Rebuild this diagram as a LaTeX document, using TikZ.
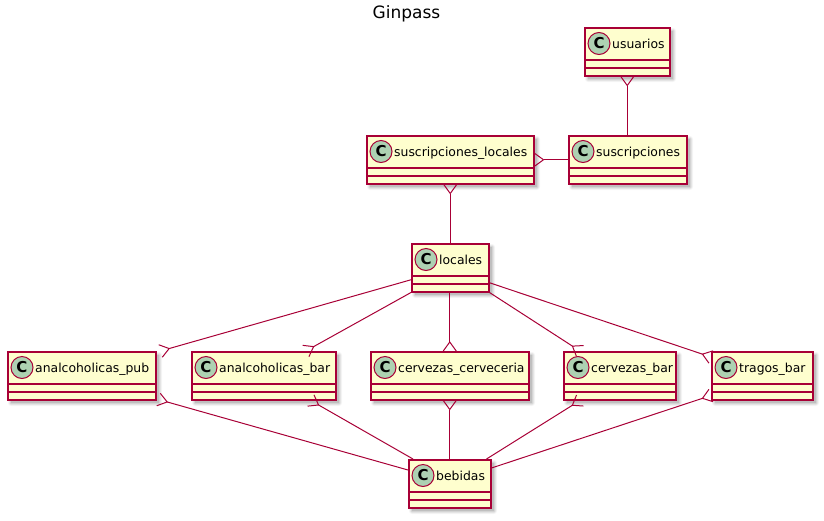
\documentclass[tikz,border=0pt]{standalone}
\usepackage{fontspec}
\setmainfont{DejaVu Sans}
\usetikzlibrary{calc}
\definecolor{umlfill}{HTML}{FEFECE}
\definecolor{umlline}{HTML}{A80036}
\definecolor{umlcirc}{HTML}{ADD1B2}
\tikzset{
  classbox/.style={draw=umlline, fill=umlfill, line width=1.5pt, rectangle, inner sep=0pt, minimum height=48pt, anchor=north west},
  conn/.style={draw=umlline, line width=1pt},
  sepline/.style={draw=umlline, line width=1.5pt},
  cicon/.style={circle, draw=umlline, fill=umlcirc, line width=1pt, minimum size=22pt, inner sep=0pt, font=\fontsize{15}{15}\selectfont\bfseries},
  clabel/.style={anchor=base west, inner sep=0pt, font=\fontsize{12.4}{15}\selectfont},
  titletext/.style={anchor=base, inner sep=0pt, font=\fontsize{17}{20}\selectfont},
}
% #1 name, #2 left x, #3 top y, #4 width, #5 label
\newcommand{\umlclass}[5]{%
  \foreach \sk/\sop in {0/0.10,1/0.08,2/0.06,3/0.04}{%
    \fill[black, opacity=\sop, rounded corners=\sk pt] (#2+4-\sk, #3+4-\sk) rectangle (#2+#4+4+\sk, #3+52+\sk);
  }
  \node[classbox, minimum width=#4pt] (#1) at (#2,#3) {};
  \draw[sepline] ($(#1.north west)+(0,33)$) -- ($(#1.north east)+(0,33)$);
  \draw[sepline] ($(#1.north west)+(0,41)$) -- ($(#1.north east)+(0,41)$);
  \node[cicon] (#1-icon) at ($(#1.north west)+(15,16.5)$) {C};
  \node[clabel] (#1-label) at ($(#1.north west)+(28,21)$) {#5};
}
% #1 crow-foot end, #2 other end
\newcommand{\crowconn}[2]{%
  \draw[conn] (#2) -- ($(#1)!9pt!(#2)$);
  \draw[conn] ($(#1)!6.5pt!90:(#2)$) -- ($(#1)!9pt!(#2)$) -- ($(#1)!6.5pt!-90:(#2)$);
}
\begin{document}
\begin{tikzpicture}[x=1pt, y=-1pt]
  \useasboundingbox (0,0) rectangle (824,520);
  \node[titletext] (title) at (406.5,18) {Ginpass};

  \umlclass{usu}{584}{27}{85}{usuarios}
  \umlclass{sl}{366}{135}{167}{suscripciones\_locales}
  \umlclass{susc}{568}{135}{118}{suscripciones}
  \umlclass{loc}{411}{243}{77}{locales}
  \umlclass{pub}{7}{351}{148}{analcoholicas\_pub}
  \umlclass{abar}{191}{351}{144}{analcoholicas\_bar}
  \umlclass{cc}{370}{351}{158}{cervezas\_cerveceria}
  \umlclass{cbar}{563}{351}{112}{cervezas\_bar}
  \umlclass{tb}{711}{351}{101}{tragos\_bar}
  \umlclass{beb}{408}{459}{82}{bebidas}

  % connector end points
  \coordinate (e1a) at (usu.south);
  \coordinate (e1b) at (e1a |- susc.north);
  \coordinate (e2a) at (sl.east);
  \coordinate (e2b) at (susc.west);
  \coordinate (e3a) at (sl.south);
  \coordinate (e3b) at (e3a |- loc.north);
  \coordinate (e4a) at ($(pub.north east)+(4,0)$);
  \coordinate (e4b) at ($(loc.west)+(0,12)$);
  \coordinate (e5a) at ($(abar.north)+(42,0)$);
  \coordinate (e5b) at (loc.south west);
  \coordinate (e6a) at (cc.north);
  \coordinate (e6b) at (e6a |- loc.south);
  \coordinate (e7a) at ($(cbar.north west)+(17,0)$);
  \coordinate (e7b) at (loc.south east);
  \coordinate (e8a) at ($(tb.north west)+(0,6)$);
  \coordinate (e8b) at ($(loc.east)+(0,15)$);
  \coordinate (e9a) at ($(pub.south east)+(2,-1)$);
  \coordinate (e9b) at ($(beb.north west)+(0,11)$);
  \coordinate (e10a) at ($(abar.south)+(47,0)$);
  \coordinate (e10b) at ($(beb.north west)+(5,0)$);
  \coordinate (e11a) at (cc.south);
  \coordinate (e11b) at (e11a |- beb.north);
  \coordinate (e12a) at ($(cbar.south west)+(17,0)$);
  \coordinate (e12b) at ($(beb.north east)+(-5,0)$);
  \coordinate (e13a) at ($(tb.south west)+(0,-5)$);
  \coordinate (e13b) at ($(beb.north east)+(0,9)$);

  \crowconn{e1a}{e1b}
  \crowconn{e2a}{e2b}
  \crowconn{e3a}{e3b}
  \crowconn{e4a}{e4b}
  \crowconn{e5a}{e5b}
  \crowconn{e6a}{e6b}
  \crowconn{e7a}{e7b}
  \crowconn{e8a}{e8b}
  \crowconn{e9a}{e9b}
  \crowconn{e10a}{e10b}
  \crowconn{e11a}{e11b}
  \crowconn{e12a}{e12b}
  \crowconn{e13a}{e13b}
\end{tikzpicture}
\end{document}
